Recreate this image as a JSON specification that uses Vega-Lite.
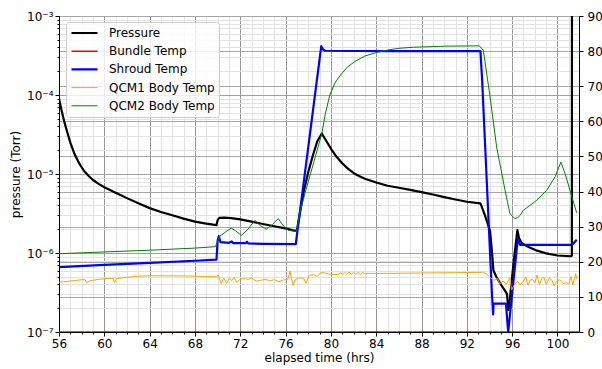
{
  "$schema": "https://vega.github.io/schema/vega-lite/v6.json",
  "width": 520,
  "height": 316,
  "autosize": "none",
  "padding": {"left": 59, "top": 16, "right": 23, "bottom": 37},
  "config": {
    "font": "DejaVu Sans",
    "view": {"stroke": "black", "strokeWidth": 1},
    "axis": {"labelFont": "DejaVu Sans", "titleFont": "DejaVu Sans", "labelColor": "black", "titleColor": "black", "tickColor": "black", "domainColor": "black", "labelFontSize": 12, "titleFontSize": 12, "titleFontWeight": "normal"}
  },
  "datasets": {
    "pressure": [
      {"t": 56.0, "p": 9.0e-5, "s": "Pressure"},
      {"t": 56.25, "p": 6.2e-5, "s": "Pressure"},
      {"t": 56.5, "p": 4.4e-5, "s": "Pressure"},
      {"t": 56.75, "p": 3.3e-5, "s": "Pressure"},
      {"t": 57.0, "p": 2.5e-5, "s": "Pressure"},
      {"t": 57.4, "p": 1.75e-5, "s": "Pressure"},
      {"t": 57.8, "p": 1.35e-5, "s": "Pressure"},
      {"t": 58.2, "p": 1.1e-5, "s": "Pressure"},
      {"t": 58.6, "p": 9.5e-6, "s": "Pressure"},
      {"t": 59.0, "p": 8.4e-6, "s": "Pressure"},
      {"t": 59.5, "p": 7.5e-6, "s": "Pressure"},
      {"t": 60.0, "p": 6.8e-6, "s": "Pressure"},
      {"t": 61.0, "p": 5.8e-6, "s": "Pressure"},
      {"t": 62.0, "p": 4.95e-6, "s": "Pressure"},
      {"t": 63.0, "p": 4.25e-6, "s": "Pressure"},
      {"t": 64.0, "p": 3.7e-6, "s": "Pressure"},
      {"t": 65.0, "p": 3.3e-6, "s": "Pressure"},
      {"t": 66.0, "p": 3.0e-6, "s": "Pressure"},
      {"t": 67.0, "p": 2.72e-6, "s": "Pressure"},
      {"t": 68.0, "p": 2.5e-6, "s": "Pressure"},
      {"t": 69.0, "p": 2.35e-6, "s": "Pressure"},
      {"t": 69.9, "p": 2.25e-6, "s": "Pressure"},
      {"t": 70.0, "p": 2.6e-6, "s": "Pressure"},
      {"t": 70.15, "p": 2.78e-6, "s": "Pressure"},
      {"t": 70.6, "p": 2.8e-6, "s": "Pressure"},
      {"t": 71.2, "p": 2.76e-6, "s": "Pressure"},
      {"t": 72.0, "p": 2.67e-6, "s": "Pressure"},
      {"t": 73.0, "p": 2.5e-6, "s": "Pressure"},
      {"t": 74.0, "p": 2.33e-6, "s": "Pressure"},
      {"t": 75.0, "p": 2.18e-6, "s": "Pressure"},
      {"t": 76.0, "p": 2.05e-6, "s": "Pressure"},
      {"t": 76.9, "p": 1.9e-6, "s": "Pressure"},
      {"t": 77.0, "p": 1.95e-6, "s": "Pressure"},
      {"t": 77.3, "p": 3.4e-6, "s": "Pressure"},
      {"t": 77.6, "p": 6.0e-6, "s": "Pressure"},
      {"t": 78.0, "p": 1.05e-5, "s": "Pressure"},
      {"t": 78.4, "p": 1.7e-5, "s": "Pressure"},
      {"t": 78.8, "p": 2.6e-5, "s": "Pressure"},
      {"t": 79.2, "p": 3.25e-5, "s": "Pressure"},
      {"t": 79.5, "p": 2.75e-5, "s": "Pressure"},
      {"t": 80.0, "p": 2.1e-5, "s": "Pressure"},
      {"t": 80.5, "p": 1.65e-5, "s": "Pressure"},
      {"t": 81.0, "p": 1.37e-5, "s": "Pressure"},
      {"t": 81.5, "p": 1.17e-5, "s": "Pressure"},
      {"t": 82.0, "p": 1.03e-5, "s": "Pressure"},
      {"t": 82.3, "p": 9.7e-6, "s": "Pressure"},
      {"t": 83.0, "p": 8.7e-6, "s": "Pressure"},
      {"t": 84.0, "p": 7.8e-6, "s": "Pressure"},
      {"t": 85.0, "p": 7.1e-6, "s": "Pressure"},
      {"t": 86.0, "p": 6.7e-6, "s": "Pressure"},
      {"t": 87.0, "p": 6.3e-6, "s": "Pressure"},
      {"t": 88.0, "p": 5.9e-6, "s": "Pressure"},
      {"t": 89.0, "p": 5.5e-6, "s": "Pressure"},
      {"t": 90.0, "p": 5.1e-6, "s": "Pressure"},
      {"t": 91.0, "p": 4.75e-6, "s": "Pressure"},
      {"t": 92.0, "p": 4.45e-6, "s": "Pressure"},
      {"t": 93.2, "p": 4.25e-6, "s": "Pressure"},
      {"t": 93.6, "p": 3.0e-6, "s": "Pressure"},
      {"t": 94.05, "p": 1.9e-6, "s": "Pressure"},
      {"t": 94.2, "p": 1.1e-6, "s": "Pressure"},
      {"t": 94.35, "p": 6.0e-7, "s": "Pressure"},
      {"t": 94.6, "p": 5.0e-7, "s": "Pressure"},
      {"t": 94.95, "p": 4.1e-7, "s": "Pressure"},
      {"t": 95.45, "p": 3.2e-7, "s": "Pressure"},
      {"t": 95.55, "p": 3.0e-7, "s": "Pressure"},
      {"t": 95.66, "p": 1.9e-7, "s": "Pressure"},
      {"t": 95.8, "p": 2.6e-7, "s": "Pressure"},
      {"t": 96.1, "p": 7.0e-7, "s": "Pressure"},
      {"t": 96.46, "p": 1.95e-6, "s": "Pressure"},
      {"t": 96.6, "p": 1.55e-6, "s": "Pressure"},
      {"t": 96.85, "p": 1.33e-6, "s": "Pressure"},
      {"t": 97.5, "p": 1.18e-6, "s": "Pressure"},
      {"t": 98.2, "p": 1.07e-6, "s": "Pressure"},
      {"t": 99.0, "p": 9.9e-7, "s": "Pressure"},
      {"t": 100.0, "p": 9.3e-7, "s": "Pressure"},
      {"t": 101.2, "p": 9.1e-7, "s": "Pressure"},
      {"t": 101.27, "p": 9.2e-7, "s": "Pressure"},
      {"t": 101.28, "p": 2.0e-3, "s": "Pressure"}
    ],
    "temps": [
      {"t": 56, "v": 0, "s": "Bundle Temp"},
      {"t": 101.9, "v": 0, "s": "Bundle Temp"},
      {"t": 56, "v": 18.5, "s": "Shroud Temp"},
      {"t": 60, "v": 19.1, "s": "Shroud Temp"},
      {"t": 64, "v": 19.7, "s": "Shroud Temp"},
      {"t": 68, "v": 20.3, "s": "Shroud Temp"},
      {"t": 69.9, "v": 20.6, "s": "Shroud Temp"},
      {"t": 70.0, "v": 26.0, "s": "Shroud Temp"},
      {"t": 70.1, "v": 27.3, "s": "Shroud Temp"},
      {"t": 70.25, "v": 25.6, "s": "Shroud Temp"},
      {"t": 71.0, "v": 25.4, "s": "Shroud Temp"},
      {"t": 71.25, "v": 25.8, "s": "Shroud Temp"},
      {"t": 71.4, "v": 25.3, "s": "Shroud Temp"},
      {"t": 72.5, "v": 25.3, "s": "Shroud Temp"},
      {"t": 72.6, "v": 25.7, "s": "Shroud Temp"},
      {"t": 72.7, "v": 25.2, "s": "Shroud Temp"},
      {"t": 74, "v": 25.1, "s": "Shroud Temp"},
      {"t": 76.9, "v": 25.0, "s": "Shroud Temp"},
      {"t": 79.15, "v": 81.4, "s": "Shroud Temp"},
      {"t": 79.3, "v": 80.5, "s": "Shroud Temp"},
      {"t": 79.5, "v": 80.1, "s": "Shroud Temp"},
      {"t": 85, "v": 80.0, "s": "Shroud Temp"},
      {"t": 90, "v": 80.0, "s": "Shroud Temp"},
      {"t": 93.2, "v": 80.0, "s": "Shroud Temp"},
      {"t": 93.35, "v": 71.7, "s": "Shroud Temp"},
      {"t": 94.2, "v": 11.9, "s": "Shroud Temp"},
      {"t": 94.32, "v": 5.0, "s": "Shroud Temp"},
      {"t": 94.36, "v": 8.1, "s": "Shroud Temp"},
      {"t": 95.45, "v": 8.1, "s": "Shroud Temp"},
      {"t": 95.65, "v": 0, "s": "Shroud Temp"},
      {"t": 96.5, "v": 26.6, "s": "Shroud Temp"},
      {"t": 96.7, "v": 24.8, "s": "Shroud Temp"},
      {"t": 98, "v": 24.8, "s": "Shroud Temp"},
      {"t": 101.27, "v": 24.8, "s": "Shroud Temp"},
      {"t": 101.7, "v": 26.3, "s": "Shroud Temp"},
      {"t": 56, "v": 14.2, "s": "QCM1 Body Temp"},
      {"t": 57, "v": 14.5, "s": "QCM1 Body Temp"},
      {"t": 58, "v": 14.9, "s": "QCM1 Body Temp"},
      {"t": 58.3, "v": 14.9, "s": "QCM1 Body Temp"},
      {"t": 58.45, "v": 14.0, "s": "QCM1 Body Temp"},
      {"t": 58.7, "v": 14.6, "s": "QCM1 Body Temp"},
      {"t": 59.5, "v": 15.0, "s": "QCM1 Body Temp"},
      {"t": 60.5, "v": 15.3, "s": "QCM1 Body Temp"},
      {"t": 60.8, "v": 15.2, "s": "QCM1 Body Temp"},
      {"t": 60.9, "v": 14.0, "s": "QCM1 Body Temp"},
      {"t": 61.1, "v": 15.2, "s": "QCM1 Body Temp"},
      {"t": 62, "v": 15.6, "s": "QCM1 Body Temp"},
      {"t": 63, "v": 15.9, "s": "QCM1 Body Temp"},
      {"t": 64, "v": 16.0, "s": "QCM1 Body Temp"},
      {"t": 66, "v": 16.0, "s": "QCM1 Body Temp"},
      {"t": 68, "v": 15.9, "s": "QCM1 Body Temp"},
      {"t": 69.9, "v": 15.7, "s": "QCM1 Body Temp"},
      {"t": 70.05, "v": 16.3, "s": "QCM1 Body Temp"},
      {"t": 70.3, "v": 13.8, "s": "QCM1 Body Temp"},
      {"t": 70.55, "v": 15.3, "s": "QCM1 Body Temp"},
      {"t": 70.8, "v": 13.9, "s": "QCM1 Body Temp"},
      {"t": 71.05, "v": 15.4, "s": "QCM1 Body Temp"},
      {"t": 71.25, "v": 14.6, "s": "QCM1 Body Temp"},
      {"t": 71.45, "v": 15.6, "s": "QCM1 Body Temp"},
      {"t": 71.7, "v": 14.1, "s": "QCM1 Body Temp"},
      {"t": 72.0, "v": 15.1, "s": "QCM1 Body Temp"},
      {"t": 72.4, "v": 15.2, "s": "QCM1 Body Temp"},
      {"t": 72.7, "v": 15.0, "s": "QCM1 Body Temp"},
      {"t": 73.0, "v": 15.4, "s": "QCM1 Body Temp"},
      {"t": 73.4, "v": 14.5, "s": "QCM1 Body Temp"},
      {"t": 73.8, "v": 14.7, "s": "QCM1 Body Temp"},
      {"t": 74.2, "v": 15.0, "s": "QCM1 Body Temp"},
      {"t": 74.6, "v": 14.6, "s": "QCM1 Body Temp"},
      {"t": 75.0, "v": 14.9, "s": "QCM1 Body Temp"},
      {"t": 75.4, "v": 14.3, "s": "QCM1 Body Temp"},
      {"t": 75.8, "v": 14.8, "s": "QCM1 Body Temp"},
      {"t": 76.2, "v": 15.0, "s": "QCM1 Body Temp"},
      {"t": 76.4, "v": 17.4, "s": "QCM1 Body Temp"},
      {"t": 76.5, "v": 15.5, "s": "QCM1 Body Temp"},
      {"t": 76.65, "v": 13.3, "s": "QCM1 Body Temp"},
      {"t": 76.85, "v": 14.9, "s": "QCM1 Body Temp"},
      {"t": 77.1, "v": 15.3, "s": "QCM1 Body Temp"},
      {"t": 77.3, "v": 15.4, "s": "QCM1 Body Temp"},
      {"t": 77.6, "v": 15.3, "s": "QCM1 Body Temp"},
      {"t": 77.8, "v": 13.8, "s": "QCM1 Body Temp"},
      {"t": 78.1, "v": 16.2, "s": "QCM1 Body Temp"},
      {"t": 78.5, "v": 16.3, "s": "QCM1 Body Temp"},
      {"t": 78.8, "v": 15.8, "s": "QCM1 Body Temp"},
      {"t": 79.1, "v": 16.9, "s": "QCM1 Body Temp"},
      {"t": 79.5, "v": 16.8, "s": "QCM1 Body Temp"},
      {"t": 79.8, "v": 16.5, "s": "QCM1 Body Temp"},
      {"t": 80.2, "v": 16.4, "s": "QCM1 Body Temp"},
      {"t": 80.6, "v": 16.3, "s": "QCM1 Body Temp"},
      {"t": 80.85, "v": 16.9, "s": "QCM1 Body Temp"},
      {"t": 81.0, "v": 16.4, "s": "QCM1 Body Temp"},
      {"t": 81.2, "v": 17.0, "s": "QCM1 Body Temp"},
      {"t": 81.4, "v": 16.4, "s": "QCM1 Body Temp"},
      {"t": 81.6, "v": 17.1, "s": "QCM1 Body Temp"},
      {"t": 81.8, "v": 16.4, "s": "QCM1 Body Temp"},
      {"t": 82.0, "v": 17.0, "s": "QCM1 Body Temp"},
      {"t": 82.2, "v": 16.4, "s": "QCM1 Body Temp"},
      {"t": 82.4, "v": 17.0, "s": "QCM1 Body Temp"},
      {"t": 82.6, "v": 16.4, "s": "QCM1 Body Temp"},
      {"t": 82.8, "v": 17.0, "s": "QCM1 Body Temp"},
      {"t": 83.0, "v": 16.6, "s": "QCM1 Body Temp"},
      {"t": 83.5, "v": 16.7, "s": "QCM1 Body Temp"},
      {"t": 85, "v": 16.7, "s": "QCM1 Body Temp"},
      {"t": 88, "v": 16.8, "s": "QCM1 Body Temp"},
      {"t": 91, "v": 16.9, "s": "QCM1 Body Temp"},
      {"t": 93.4, "v": 17.0, "s": "QCM1 Body Temp"},
      {"t": 93.7, "v": 16.6, "s": "QCM1 Body Temp"},
      {"t": 94.1, "v": 15.4, "s": "QCM1 Body Temp"},
      {"t": 94.4, "v": 14.7, "s": "QCM1 Body Temp"},
      {"t": 94.7, "v": 15.3, "s": "QCM1 Body Temp"},
      {"t": 94.9, "v": 13.7, "s": "QCM1 Body Temp"},
      {"t": 95.2, "v": 14.5, "s": "QCM1 Body Temp"},
      {"t": 95.5, "v": 13.6, "s": "QCM1 Body Temp"},
      {"t": 95.8, "v": 15.5, "s": "QCM1 Body Temp"},
      {"t": 95.95, "v": 12.0, "s": "QCM1 Body Temp"},
      {"t": 96.2, "v": 13.5, "s": "QCM1 Body Temp"},
      {"t": 96.5, "v": 14.4, "s": "QCM1 Body Temp"},
      {"t": 96.7, "v": 13.4, "s": "QCM1 Body Temp"},
      {"t": 97.0, "v": 14.5, "s": "QCM1 Body Temp"},
      {"t": 97.2, "v": 15.7, "s": "QCM1 Body Temp"},
      {"t": 97.4, "v": 13.3, "s": "QCM1 Body Temp"},
      {"t": 97.6, "v": 14.8, "s": "QCM1 Body Temp"},
      {"t": 97.8, "v": 15.0, "s": "QCM1 Body Temp"},
      {"t": 98.0, "v": 14.0, "s": "QCM1 Body Temp"},
      {"t": 98.2, "v": 16.2, "s": "QCM1 Body Temp"},
      {"t": 98.4, "v": 13.4, "s": "QCM1 Body Temp"},
      {"t": 98.6, "v": 15.2, "s": "QCM1 Body Temp"},
      {"t": 98.8, "v": 15.6, "s": "QCM1 Body Temp"},
      {"t": 99.0, "v": 13.6, "s": "QCM1 Body Temp"},
      {"t": 99.3, "v": 15.4, "s": "QCM1 Body Temp"},
      {"t": 99.5, "v": 14.8, "s": "QCM1 Body Temp"},
      {"t": 99.7, "v": 13.2, "s": "QCM1 Body Temp"},
      {"t": 99.9, "v": 14.4, "s": "QCM1 Body Temp"},
      {"t": 100.2, "v": 14.9, "s": "QCM1 Body Temp"},
      {"t": 100.5, "v": 13.8, "s": "QCM1 Body Temp"},
      {"t": 100.8, "v": 14.0, "s": "QCM1 Body Temp"},
      {"t": 101.0, "v": 13.8, "s": "QCM1 Body Temp"},
      {"t": 101.2, "v": 15.8, "s": "QCM1 Body Temp"},
      {"t": 101.35, "v": 13.5, "s": "QCM1 Body Temp"},
      {"t": 101.5, "v": 15.2, "s": "QCM1 Body Temp"},
      {"t": 101.6, "v": 16.6, "s": "QCM1 Body Temp"},
      {"t": 101.7, "v": 15.0, "s": "QCM1 Body Temp"},
      {"t": 56, "v": 22.3, "s": "QCM2 Body Temp"},
      {"t": 60, "v": 22.8, "s": "QCM2 Body Temp"},
      {"t": 64, "v": 23.3, "s": "QCM2 Body Temp"},
      {"t": 68, "v": 23.9, "s": "QCM2 Body Temp"},
      {"t": 69.8, "v": 24.3, "s": "QCM2 Body Temp"},
      {"t": 70.2, "v": 27.3, "s": "QCM2 Body Temp"},
      {"t": 70.7, "v": 28.5, "s": "QCM2 Body Temp"},
      {"t": 71.2, "v": 29.6, "s": "QCM2 Body Temp"},
      {"t": 71.6, "v": 28.8, "s": "QCM2 Body Temp"},
      {"t": 72.1, "v": 27.5, "s": "QCM2 Body Temp"},
      {"t": 72.6, "v": 29.0, "s": "QCM2 Body Temp"},
      {"t": 73.3, "v": 31.8, "s": "QCM2 Body Temp"},
      {"t": 73.8, "v": 30.2, "s": "QCM2 Body Temp"},
      {"t": 74.3, "v": 29.3, "s": "QCM2 Body Temp"},
      {"t": 74.8, "v": 30.5, "s": "QCM2 Body Temp"},
      {"t": 75.35, "v": 32.3, "s": "QCM2 Body Temp"},
      {"t": 75.8, "v": 30.3, "s": "QCM2 Body Temp"},
      {"t": 76.2, "v": 29.0, "s": "QCM2 Body Temp"},
      {"t": 76.97, "v": 28.6, "s": "QCM2 Body Temp"},
      {"t": 77.26, "v": 34.0, "s": "QCM2 Body Temp"},
      {"t": 77.8, "v": 40.5, "s": "QCM2 Body Temp"},
      {"t": 78.5, "v": 48.5, "s": "QCM2 Body Temp"},
      {"t": 79.2, "v": 56.5, "s": "QCM2 Body Temp"},
      {"t": 79.5, "v": 62.0, "s": "QCM2 Body Temp"},
      {"t": 79.9, "v": 67.5, "s": "QCM2 Body Temp"},
      {"t": 80.4, "v": 71.2, "s": "QCM2 Body Temp"},
      {"t": 81.0, "v": 73.8, "s": "QCM2 Body Temp"},
      {"t": 81.5, "v": 75.6, "s": "QCM2 Body Temp"},
      {"t": 82.2, "v": 77.2, "s": "QCM2 Body Temp"},
      {"t": 83.0, "v": 78.6, "s": "QCM2 Body Temp"},
      {"t": 84.0, "v": 79.6, "s": "QCM2 Body Temp"},
      {"t": 85.0, "v": 80.3, "s": "QCM2 Body Temp"},
      {"t": 86.0, "v": 80.8, "s": "QCM2 Body Temp"},
      {"t": 87.3, "v": 81.1, "s": "QCM2 Body Temp"},
      {"t": 90.0, "v": 81.4, "s": "QCM2 Body Temp"},
      {"t": 93.1, "v": 81.5, "s": "QCM2 Body Temp"},
      {"t": 93.45, "v": 80.3, "s": "QCM2 Body Temp"},
      {"t": 94.05, "v": 67.0, "s": "QCM2 Body Temp"},
      {"t": 94.63, "v": 52.7, "s": "QCM2 Body Temp"},
      {"t": 95.37, "v": 40.4, "s": "QCM2 Body Temp"},
      {"t": 95.8, "v": 33.7, "s": "QCM2 Body Temp"},
      {"t": 96.24, "v": 32.3, "s": "QCM2 Body Temp"},
      {"t": 96.5, "v": 32.6, "s": "QCM2 Body Temp"},
      {"t": 96.7, "v": 33.2, "s": "QCM2 Body Temp"},
      {"t": 97.0, "v": 34.7, "s": "QCM2 Body Temp"},
      {"t": 98.17, "v": 37.5, "s": "QCM2 Body Temp"},
      {"t": 99.06, "v": 40.4, "s": "QCM2 Body Temp"},
      {"t": 99.79, "v": 44.2, "s": "QCM2 Body Temp"},
      {"t": 100.3, "v": 48.4, "s": "QCM2 Body Temp"},
      {"t": 100.67, "v": 45.1, "s": "QCM2 Body Temp"},
      {"t": 101.27, "v": 38.5, "s": "QCM2 Body Temp"},
      {"t": 101.7, "v": 33.9, "s": "QCM2 Body Temp"}
    ]
  },
  "encoding": {
    "x": {
      "field": "t", "type": "quantitative",
      "scale": {"domain": [56, 101.9], "nice": false, "zero": false},
      "axis": {
        "title": "elapsed time (hrs)",
        "values": [56,57,58,59,60,61,62,63,64,65,66,67,68,69,70,71,72,73,74,75,76,77,78,79,80,81,82,83,84,85,86,87,88,89,90,91,92,93,94,95,96,97,98,99,100,101],
        "labelExpr": "datum.value % 4 === 0 ? datum.label : ''",
        "labelOverlap": false,
        "labelFlush": false,
        "grid": true,
        "gridColor": {"condition": {"test": "datum.value % 4 === 0", "value": "#959595"}, "value": "#e2e2e2"},
        "tickSize": {"condition": {"test": "datum.value % 4 === 0", "value": 4}, "value": 2},
        "labelPadding": 2,
        "titlePadding": 3
      }
    }
  },
  "layer": [
    {
      "data": {"name": "pressure"},
      "mark": {"type": "line", "clip": true, "strokeJoin": "round"},
      "encoding": {
        "y": {
          "field": "p", "type": "quantitative",
          "scale": {"type": "log", "domain": [1e-7, 1e-3], "nice": false},
          "axis": {
            "orient": "left",
            "title": "pressure (Torr)",
            "values": [1e-7,2e-7,3e-7,4e-7,5e-7,6e-7,7e-7,8e-7,9e-7,1e-6,2e-6,3e-6,4e-6,5e-6,6e-6,7e-6,8e-6,9e-6,1e-5,2e-5,3e-5,4e-5,5e-5,6e-5,7e-5,8e-5,9e-5,1e-4,2e-4,3e-4,4e-4,5e-4,6e-4,7e-4,8e-4,9e-4,1e-3],
            "labelExpr": "abs(log(datum.value)/LN10 - round(log(datum.value)/LN10)) < 0.001 ? '10⁻' + ['⁰','¹','²','³','⁴','⁵','⁶','⁷','⁸','⁹'][-round(log(datum.value)/LN10)] : ''",
            "labelOverlap": false,
            "labelFlush": false,
            "grid": true,
            "gridColor": {"condition": {"test": "abs(log(datum.value)/LN10 - round(log(datum.value)/LN10)) < 0.001", "value": "#a0a0a0"}, "value": "#e2e2e2"},
            "tickSize": {"condition": {"test": "abs(log(datum.value)/LN10 - round(log(datum.value)/LN10)) < 0.001", "value": 4}, "value": 2},
            "labelPadding": 2,
            "titlePadding": 4
          }
        },
        "color": {
          "field": "s", "type": "nominal",
          "scale": {"domain": ["Pressure", "Bundle Temp", "Shroud Temp", "QCM1 Body Temp", "QCM2 Body Temp"], "range": ["#000000", "#ff0000", "#0000ff", "#ffa500", "#008000"]},
          "legend": {"orient": "none", "legendX": 7, "legendY": 6, "title": null, "symbolType": "stroke", "symbolSize": 676, "labelFontSize": 12, "labelFont": "DejaVu Sans", "labelColor": "black", "labelOffset": 10, "padding": 4, "rowPadding": 4.2, "clipHeight": 14, "strokeColor": "#cccccc", "fillColor": "rgba(255,255,255,0.8)", "cornerRadius": 3, "labelLimit": 300}
        },
        "strokeWidth": {
          "field": "s", "type": "nominal",
          "scale": {"type": "ordinal", "domain": ["Pressure", "Bundle Temp", "Shroud Temp", "QCM1 Body Temp", "QCM2 Body Temp"], "range": [2.2, 1.5, 2.2, 1, 1]},
          "legend": {"orient": "none", "legendX": 7, "legendY": 6, "title": null, "symbolType": "stroke", "symbolSize": 676, "labelFontSize": 12, "labelFont": "DejaVu Sans", "labelColor": "black", "labelOffset": 10, "padding": 4, "rowPadding": 4.2, "clipHeight": 14, "strokeColor": "#cccccc", "fillColor": "rgba(255,255,255,0.8)", "cornerRadius": 3, "labelLimit": 300}
        }
      }
    },
    {
      "data": {"name": "temps"},
      "mark": {"type": "line", "clip": true, "strokeJoin": "round"},
      "encoding": {
        "y": {
          "field": "v", "type": "quantitative",
          "scale": {"domain": [0, 90], "nice": false, "zero": false},
          "axis": {"orient": "right", "title": null, "values": [0,10,20,30,40,50,60,70,80,90], "grid": true, "gridColor": "#a6a6a6", "tickSize": 4, "labelPadding": 4, "labelFlush": false}
        },
        "color": {
          "field": "s", "type": "nominal",
          "scale": {"domain": ["Pressure", "Bundle Temp", "Shroud Temp", "QCM1 Body Temp", "QCM2 Body Temp"], "range": ["#000000", "#ff0000", "#0000ff", "#ffa500", "#008000"]},
          "legend": {"orient": "none", "legendX": 7, "legendY": 6, "title": null, "symbolType": "stroke", "symbolSize": 676, "labelFontSize": 12, "labelFont": "DejaVu Sans", "labelColor": "black", "labelOffset": 10, "padding": 4, "rowPadding": 4.2, "clipHeight": 14, "strokeColor": "#cccccc", "fillColor": "rgba(255,255,255,0.8)", "cornerRadius": 3, "labelLimit": 300}
        },
        "strokeWidth": {
          "field": "s", "type": "nominal",
          "scale": {"type": "ordinal", "domain": ["Pressure", "Bundle Temp", "Shroud Temp", "QCM1 Body Temp", "QCM2 Body Temp"], "range": [2.2, 1.5, 2.2, 1, 1]},
          "legend": {"orient": "none", "legendX": 7, "legendY": 6, "title": null, "symbolType": "stroke", "symbolSize": 676, "labelFontSize": 12, "labelFont": "DejaVu Sans", "labelColor": "black", "labelOffset": 10, "padding": 4, "rowPadding": 4.2, "clipHeight": 14, "strokeColor": "#cccccc", "fillColor": "rgba(255,255,255,0.8)", "cornerRadius": 3, "labelLimit": 300}
        }
      }
    }
  ],
  "resolve": {"scale": {"y": "independent"}}
}
